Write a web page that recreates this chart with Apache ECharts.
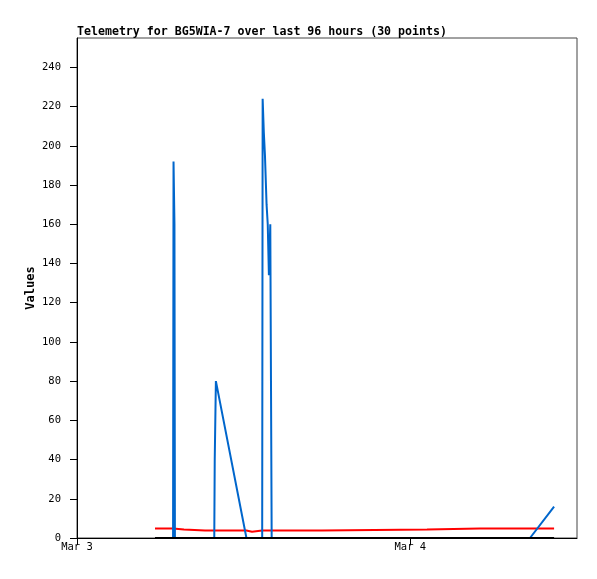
<!DOCTYPE html>
<html>
<head>
<meta charset="utf-8">
<script src="https://cdn.jsdelivr.net/npm/echarts@6/dist/echarts.min.js"></script>
<style>
html,body{margin:0;padding:0;background:#fff;}
#chart{width:597px;height:579px;}
</style>
</head>
<body>
<div id="chart"></div>
<script>
// Sample times (UTC), 30 points
const times = [
  '2024-03-03T05:37','2024-03-03T06:55','2024-03-03T06:57','2024-03-03T07:01','2024-03-03T07:03',
  '2024-03-03T07:42','2024-03-03T09:13','2024-03-03T09:53','2024-03-03T09:55','2024-03-03T10:00',
  '2024-03-03T12:12','2024-03-03T12:36','2024-03-03T13:20','2024-03-03T13:22','2024-03-03T13:27',
  '2024-03-03T13:32','2024-03-03T13:39','2024-03-03T13:44','2024-03-03T13:49','2024-03-03T13:55',
  '2024-03-03T13:58','2024-03-03T14:01','2024-03-03T17:38','2024-03-03T17:43','2024-03-04T01:12',
  '2024-03-04T01:16','2024-03-04T05:01','2024-03-04T06:49','2024-03-04T08:37','2024-03-04T10:21'
];
const redValues = [
  4.8,4.8,4.8,4.8,4.8,
  4.3,3.8,3.8,3.8,3.8,
  3.8,3.2,3.8,3.8,3.8,
  3.8,3.8,3.8,3.8,3.8,
  3.8,3.8,3.8,4.3,4.3,
  4.8,4.8,4.8,4.8,4.8
];
const blueValues = [
  0,0,192,160,0,
  0,0,0,40,80,
  0,0,0,224,207,
  195,170,160,134,160,
  80,0,0,0,0,
  0,0,0,0,16
];
const blackValues = [
  0,0,0,0,0, 0,0,0,0,0, 0,0,0,0,0,
  0,0,0,0,0, 0,0,0,0,0, 0,0,0,0,0
];
const yTicks = [0,20,40,60,80,100,120,140,160,180,200,220,240];
const xTickDates = ['2024-03-03T00:00','2024-03-04T00:00'];
const xRange = ['2024-03-03T00:00','2024-03-04T12:00'];
const yMax = 255;
const titleText = 'Telemetry for BG5WIA-7 over last 96 hours (30 points)';
const yName = 'Values';
const monthNames = ['Jan','Feb','Mar','Apr','May','Jun','Jul','Aug','Sep','Oct','Nov','Dec'];

const toMs = s => Date.parse(s + ':00Z');
const tms = times.map(toMs);
const pair = vals => tms.map((t,i) => [t, vals[i]]);
const xTicks = xTickDates.map(toMs);
const DAY = 86400000;

const mono = '"DejaVu Sans Mono", "Liberation Mono", monospace';
const chart = echarts.init(document.getElementById('chart'), null, {renderer:'canvas'});
chart.setOption({
  animation: false,
  backgroundColor: '#ffffff',
  title: {
    text: titleText,
    left: 77, top: 26, padding: 0,
    textStyle: {fontFamily: mono, fontSize: 11.6, fontWeight: 'bold', color: '#000'}
  },
  grid: {left: 77, right: 20, top: 38, bottom: 41, show: true, borderColor: '#444', borderWidth: 1, backgroundColor: 'transparent'},
  xAxis: {
    type: 'value',
    min: toMs(xRange[0]), max: toMs(xRange[1]), interval: DAY,
    splitLine: {show: false},
    axisLine: {show: true, onZero: false, lineStyle: {color: '#000', width: 1}},
    axisTick: {show: true, length: 7, inside: false, customValues: xTicks, lineStyle: {color: '#000'}},
    axisLabel: {
      customValues: xTicks,
      margin: 4,
      fontFamily: mono, fontSize: 10.5, color: '#000',
      formatter: v => { const d = new Date(v); return monthNames[d.getUTCMonth()] + ' ' + d.getUTCDate(); }
    }
  },
  yAxis: {
    type: 'value',
    min: 0, max: yMax, interval: 20,
    name: yName, nameLocation: 'middle', nameGap: 40, nameRotate: 90, nameMoveOverlap: false,
    nameTextStyle: {fontFamily: mono, fontSize: 12, fontWeight: 'bold', color: '#000'},
    splitLine: {show: false},
    axisLine: {show: true, lineStyle: {color: '#000', width: 1}},
    axisTick: {show: true, length: 7, customValues: yTicks, lineStyle: {color: '#000'}},
    axisLabel: {customValues: yTicks, margin: 16, fontFamily: mono, fontSize: 10.5, color: '#000'}
  },
  series: [
    {type: 'line', data: pair(redValues), showSymbol: false, symbol: 'none', lineStyle: {color: '#ff0000', width: 2}, z: 2},
    {type: 'line', data: pair(blueValues), showSymbol: false, symbol: 'none', lineStyle: {color: '#0066cc', width: 2}, z: 3},
    {type: 'line', data: pair(blackValues), showSymbol: false, symbol: 'none', lineStyle: {color: '#000000', width: 2}, z: 4}
  ]
});
</script>
</body>
</html>
